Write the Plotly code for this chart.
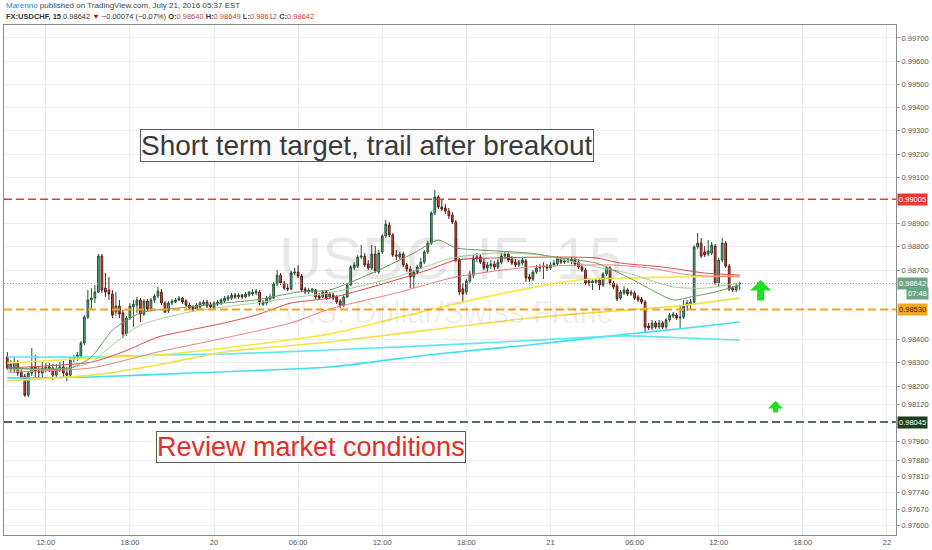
import pandas as pd
import plotly.graph_objects as go

# 15 minute USDCHF bars, first bar 2016-07-19 09:15
bar_start = '2016-07-19 09:15'

open_prices = [
    0.98325, 0.98273, 0.98269, 0.98303, 0.98260, 0.98243, 0.98161, 0.98256, 0.98282, 0.98265,
    0.98256, 0.98273, 0.98282, 0.98278, 0.98247, 0.98269, 0.98282, 0.98256, 0.98247, 0.98316,
    0.98321, 0.98329, 0.98385, 0.98497, 0.98571, 0.98579, 0.98605, 0.98760, 0.98622, 0.98614,
    0.98597, 0.98519, 0.98545, 0.98515, 0.98424, 0.98493, 0.98541, 0.98549, 0.98571, 0.98510,
    0.98566, 0.98532, 0.98571, 0.98588, 0.98605, 0.98558, 0.98523, 0.98558, 0.98562, 0.98571,
    0.98579, 0.98566, 0.98549, 0.98541, 0.98532, 0.98541, 0.98553, 0.98562, 0.98549, 0.98536,
    0.98553, 0.98558, 0.98566, 0.98575, 0.98579, 0.98592, 0.98584, 0.98592, 0.98584, 0.98592,
    0.98597, 0.98601, 0.98605, 0.98553, 0.98558, 0.98575, 0.98579, 0.98640, 0.98678, 0.98644,
    0.98622, 0.98618, 0.98687, 0.98691, 0.98674, 0.98618, 0.98605, 0.98609, 0.98614, 0.98588,
    0.98584, 0.98605, 0.98584, 0.98592, 0.98584, 0.98566, 0.98549, 0.98584, 0.98635, 0.98709,
    0.98717, 0.98756, 0.98760, 0.98726, 0.98709, 0.98769, 0.98691, 0.98778, 0.98847, 0.98894,
    0.98851, 0.98765, 0.98756, 0.98769, 0.98722, 0.98704, 0.98670, 0.98691, 0.98713, 0.98734,
    0.98778, 0.98816, 0.98946, 0.99015, 0.98972, 0.98967, 0.98954, 0.98937, 0.98907, 0.98743,
    0.98618, 0.98605, 0.98653, 0.98678, 0.98752, 0.98756, 0.98734, 0.98709, 0.98717, 0.98726,
    0.98713, 0.98734, 0.98760, 0.98769, 0.98747, 0.98734, 0.98722, 0.98730, 0.98739, 0.98670,
    0.98661, 0.98691, 0.98709, 0.98713, 0.98717, 0.98709, 0.98722, 0.98726, 0.98747, 0.98734,
    0.98739, 0.98739, 0.98743, 0.98734, 0.98713, 0.98700, 0.98653, 0.98644, 0.98648, 0.98657,
    0.98635, 0.98683, 0.98709, 0.98644, 0.98631, 0.98579, 0.98601, 0.98614, 0.98597, 0.98601,
    0.98584, 0.98575, 0.98562, 0.98459, 0.98450, 0.98472, 0.98454, 0.98472, 0.98454, 0.98485,
    0.98502, 0.98506, 0.98493, 0.98497, 0.98545, 0.98553, 0.98562, 0.98799, 0.98816, 0.98778,
    0.98769, 0.98773, 0.98803, 0.98644, 0.98743, 0.98816, 0.98717, 0.98622, 0.98614, 0.98640,
]
high_prices = [
    0.98347, 0.98312, 0.98321, 0.98312, 0.98273, 0.98252, 0.98260, 0.98364, 0.98334, 0.98286,
    0.98303, 0.98299, 0.98299, 0.98295, 0.98295, 0.98303, 0.98308, 0.98282, 0.98325, 0.98334,
    0.98347, 0.98394, 0.98506, 0.98614, 0.98622, 0.98635, 0.98769, 0.98769, 0.98687, 0.98670,
    0.98614, 0.98605, 0.98571, 0.98528, 0.98502, 0.98558, 0.98571, 0.98584, 0.98579, 0.98575,
    0.98575, 0.98579, 0.98597, 0.98627, 0.98618, 0.98566, 0.98566, 0.98575, 0.98579, 0.98588,
    0.98584, 0.98575, 0.98558, 0.98549, 0.98558, 0.98566, 0.98571, 0.98571, 0.98562, 0.98566,
    0.98571, 0.98579, 0.98588, 0.98592, 0.98601, 0.98601, 0.98601, 0.98597, 0.98605, 0.98609,
    0.98618, 0.98618, 0.98614, 0.98571, 0.98588, 0.98597, 0.98648, 0.98700, 0.98687, 0.98653,
    0.98640, 0.98696, 0.98709, 0.98722, 0.98683, 0.98627, 0.98622, 0.98622, 0.98618, 0.98601,
    0.98614, 0.98614, 0.98605, 0.98601, 0.98592, 0.98575, 0.98592, 0.98644, 0.98722, 0.98734,
    0.98765, 0.98808, 0.98773, 0.98743, 0.98808, 0.98803, 0.98786, 0.98855, 0.98916, 0.98907,
    0.98860, 0.98786, 0.98778, 0.98778, 0.98730, 0.98717, 0.98700, 0.98722, 0.98752, 0.98786,
    0.98825, 0.98954, 0.99045, 0.99023, 0.99002, 0.98984, 0.98967, 0.98950, 0.98916, 0.98752,
    0.98644, 0.98661, 0.98696, 0.98765, 0.98773, 0.98769, 0.98747, 0.98734, 0.98743, 0.98739,
    0.98747, 0.98773, 0.98782, 0.98778, 0.98760, 0.98747, 0.98743, 0.98752, 0.98747, 0.98683,
    0.98700, 0.98722, 0.98726, 0.98734, 0.98726, 0.98734, 0.98743, 0.98760, 0.98756, 0.98752,
    0.98752, 0.98756, 0.98752, 0.98747, 0.98726, 0.98709, 0.98666, 0.98661, 0.98666, 0.98666,
    0.98691, 0.98717, 0.98717, 0.98653, 0.98640, 0.98614, 0.98631, 0.98622, 0.98614, 0.98609,
    0.98592, 0.98584, 0.98571, 0.98472, 0.98485, 0.98480, 0.98485, 0.98480, 0.98493, 0.98515,
    0.98519, 0.98515, 0.98549, 0.98571, 0.98571, 0.98575, 0.98808, 0.98860, 0.98838, 0.98803,
    0.98829, 0.98821, 0.98812, 0.98752, 0.98838, 0.98825, 0.98726, 0.98631, 0.98640, 0.98649,
]
low_prices = [
    0.98269, 0.98260, 0.98256, 0.98243, 0.98230, 0.98153, 0.98153, 0.98243, 0.98235, 0.98226,
    0.98235, 0.98260, 0.98260, 0.98226, 0.98235, 0.98260, 0.98235, 0.98222, 0.98239, 0.98303,
    0.98308, 0.98321, 0.98377, 0.98489, 0.98532, 0.98558, 0.98601, 0.98601, 0.98584, 0.98571,
    0.98493, 0.98502, 0.98493, 0.98407, 0.98416, 0.98485, 0.98454, 0.98515, 0.98476, 0.98502,
    0.98523, 0.98523, 0.98558, 0.98579, 0.98549, 0.98515, 0.98515, 0.98549, 0.98558, 0.98566,
    0.98553, 0.98541, 0.98528, 0.98519, 0.98528, 0.98532, 0.98545, 0.98536, 0.98528, 0.98532,
    0.98545, 0.98549, 0.98558, 0.98566, 0.98571, 0.98575, 0.98575, 0.98575, 0.98579, 0.98584,
    0.98588, 0.98592, 0.98549, 0.98545, 0.98549, 0.98562, 0.98575, 0.98631, 0.98635, 0.98614,
    0.98609, 0.98614, 0.98678, 0.98666, 0.98605, 0.98597, 0.98597, 0.98601, 0.98575, 0.98575,
    0.98579, 0.98571, 0.98575, 0.98571, 0.98553, 0.98536, 0.98541, 0.98579, 0.98631, 0.98700,
    0.98709, 0.98747, 0.98713, 0.98700, 0.98700, 0.98687, 0.98683, 0.98769, 0.98838, 0.98842,
    0.98756, 0.98743, 0.98747, 0.98713, 0.98691, 0.98622, 0.98622, 0.98683, 0.98704, 0.98726,
    0.98769, 0.98808, 0.98937, 0.98963, 0.98954, 0.98941, 0.98920, 0.98898, 0.98734, 0.98592,
    0.98558, 0.98592, 0.98644, 0.98666, 0.98734, 0.98726, 0.98700, 0.98691, 0.98704, 0.98700,
    0.98704, 0.98726, 0.98747, 0.98734, 0.98722, 0.98713, 0.98713, 0.98722, 0.98648, 0.98648,
    0.98653, 0.98683, 0.98691, 0.98661, 0.98696, 0.98700, 0.98713, 0.98717, 0.98726, 0.98726,
    0.98730, 0.98726, 0.98717, 0.98704, 0.98691, 0.98635, 0.98631, 0.98614, 0.98640, 0.98614,
    0.98627, 0.98674, 0.98635, 0.98618, 0.98566, 0.98571, 0.98592, 0.98588, 0.98588, 0.98571,
    0.98562, 0.98553, 0.98428, 0.98441, 0.98441, 0.98446, 0.98446, 0.98446, 0.98446, 0.98476,
    0.98493, 0.98485, 0.98450, 0.98489, 0.98523, 0.98528, 0.98553, 0.98791, 0.98752, 0.98756,
    0.98760, 0.98765, 0.98635, 0.98631, 0.98734, 0.98709, 0.98609, 0.98605, 0.98605, 0.98612,
]
close_prices = [
    0.98278, 0.98295, 0.98303, 0.98256, 0.98239, 0.98161, 0.98256, 0.98282, 0.98265, 0.98260,
    0.98278, 0.98282, 0.98273, 0.98247, 0.98273, 0.98282, 0.98256, 0.98247, 0.98316, 0.98321,
    0.98334, 0.98385, 0.98497, 0.98571, 0.98579, 0.98605, 0.98760, 0.98614, 0.98605, 0.98597,
    0.98506, 0.98545, 0.98510, 0.98424, 0.98493, 0.98545, 0.98553, 0.98571, 0.98510, 0.98566,
    0.98532, 0.98571, 0.98588, 0.98609, 0.98558, 0.98519, 0.98558, 0.98566, 0.98571, 0.98579,
    0.98562, 0.98549, 0.98536, 0.98532, 0.98549, 0.98558, 0.98562, 0.98545, 0.98541, 0.98558,
    0.98562, 0.98571, 0.98579, 0.98584, 0.98592, 0.98584, 0.98592, 0.98584, 0.98597, 0.98605,
    0.98605, 0.98609, 0.98558, 0.98562, 0.98579, 0.98584, 0.98640, 0.98678, 0.98644, 0.98622,
    0.98618, 0.98687, 0.98691, 0.98674, 0.98614, 0.98605, 0.98614, 0.98618, 0.98584, 0.98579,
    0.98605, 0.98579, 0.98597, 0.98579, 0.98562, 0.98549, 0.98584, 0.98635, 0.98713, 0.98722,
    0.98756, 0.98760, 0.98722, 0.98709, 0.98769, 0.98696, 0.98773, 0.98847, 0.98898, 0.98851,
    0.98765, 0.98760, 0.98769, 0.98722, 0.98704, 0.98670, 0.98691, 0.98713, 0.98734, 0.98778,
    0.98816, 0.98946, 0.99015, 0.98972, 0.98963, 0.98954, 0.98933, 0.98907, 0.98743, 0.98605,
    0.98597, 0.98653, 0.98683, 0.98752, 0.98756, 0.98734, 0.98709, 0.98722, 0.98726, 0.98713,
    0.98734, 0.98760, 0.98769, 0.98743, 0.98730, 0.98722, 0.98734, 0.98743, 0.98666, 0.98661,
    0.98691, 0.98709, 0.98713, 0.98717, 0.98709, 0.98722, 0.98730, 0.98752, 0.98734, 0.98739,
    0.98743, 0.98747, 0.98726, 0.98713, 0.98700, 0.98644, 0.98644, 0.98653, 0.98657, 0.98635,
    0.98683, 0.98709, 0.98644, 0.98627, 0.98575, 0.98605, 0.98614, 0.98597, 0.98605, 0.98579,
    0.98571, 0.98562, 0.98454, 0.98450, 0.98472, 0.98454, 0.98472, 0.98454, 0.98485, 0.98506,
    0.98510, 0.98493, 0.98497, 0.98549, 0.98558, 0.98562, 0.98799, 0.98816, 0.98760, 0.98765,
    0.98782, 0.98808, 0.98644, 0.98743, 0.98816, 0.98717, 0.98618, 0.98614, 0.98631, 0.98642,
]

# moving averages at some bar numbers
ma_green_idx = [0, 18, 24, 30, 38, 52, 62, 71, 83, 92, 106, 116, 123, 128, 135, 149, 158, 168, 177, 190, 195, 202, 209]
ma_green_val = [0.98278, 0.98278, 0.98325, 0.98441, 0.98515, 0.98541, 0.98558, 0.98571, 0.98605, 0.98614,
                0.98700, 0.98773, 0.98829, 0.98795, 0.98786, 0.98773, 0.98752, 0.98730, 0.98670, 0.98571,
                0.98584, 0.98605, 0.98635]
ma_lgreen_idx = [0, 18, 24, 30, 38, 52, 62, 71, 83, 92, 111, 127, 139, 152, 168, 177, 190, 199, 209]
ma_lgreen_val = [0.98269, 0.98278, 0.98303, 0.98377, 0.98463, 0.98519, 0.98541, 0.98558, 0.98584, 0.98601,
                 0.98670, 0.98752, 0.98773, 0.98765, 0.98713, 0.98687, 0.98627, 0.98622, 0.98644]
ma_red_idx = [0, 24, 33, 43, 52, 62, 71, 81, 92, 106, 120, 128, 139, 158, 168, 175, 187, 199, 209]
ma_red_val = [0.98278, 0.98303, 0.98347, 0.98411, 0.98441, 0.98472, 0.98506, 0.98558, 0.98579, 0.98635,
              0.98700, 0.98743, 0.98752, 0.98756, 0.98752, 0.98730, 0.98713, 0.98687, 0.98678]
ma_pink_idx = [0, 24, 43, 62, 81, 92, 111, 128, 149, 172, 183, 195, 209]
ma_pink_val = [0.98260, 0.98278, 0.98347, 0.98407, 0.98472, 0.98532, 0.98601, 0.98670, 0.98713, 0.98722,
               0.98709, 0.98678, 0.98670]
ma_yellow_idx = [0, 24, 43, 62, 92, 111, 130, 149, 163, 177, 194, 209]
ma_yellow_val = [0.98299, 0.98321, 0.98334, 0.98364, 0.98424, 0.98493, 0.98562, 0.98622, 0.98657, 0.98666,
                 0.98670, 0.98674]
ma_gold_idx = [0, 24, 43, 62, 92, 120, 149, 177, 191, 209]
ma_gold_val = [0.98222, 0.98247, 0.98291, 0.98347, 0.98390, 0.98441, 0.98493, 0.98528, 0.98545, 0.98579]
ma_cyan_idx = [0, 24, 43, 62, 92, 135, 177, 194, 209]
ma_cyan_val = [0.98325, 0.98325, 0.98334, 0.98338, 0.98355, 0.98385, 0.98416, 0.98407, 0.98398]
ma_aqua_idx = [0, 24, 52, 92, 120, 149, 177, 194, 209]
ma_aqua_val = [0.98235, 0.98239, 0.98256, 0.98282, 0.98334, 0.98377, 0.98424, 0.98450, 0.98476]

# drawn levels
level_target = 0.99005
level_support = 0.98530
level_review = 0.98045
last_price = 0.98642

tick_times = ['2016-07-19 12:00', '2016-07-19 18:00', '2016-07-20 00:00', '2016-07-20 06:00',
              '2016-07-20 12:00', '2016-07-20 18:00', '2016-07-21 00:00', '2016-07-21 06:00',
              '2016-07-21 12:00', '2016-07-21 18:00', '2016-07-22 00:00']
tick_text = ['12:00', '18:00', '20', '06:00', '12:00', '18:00', '21', '06:00', '12:00', '18:00', '22']
price_ticks = [0.997, 0.996, 0.995, 0.994, 0.993, 0.992, 0.991, 0.989, 0.988, 0.987,
               0.984, 0.983, 0.982, 0.9812, 0.9796, 0.9788, 0.9781, 0.9774, 0.9767, 0.976]

times = pd.date_range(bar_start, periods=len(close_prices), freq='15min')

fig = go.Figure()

ma_lines = [
    (ma_aqua_idx, ma_aqua_val, '#3fdff0', 1.6),
    (ma_cyan_idx, ma_cyan_val, '#5fe6f2', 1.6),
    (ma_gold_idx, ma_gold_val, '#f2e04a', 1.6),
    (ma_yellow_idx, ma_yellow_val, '#f7e83c', 1.6),
    (ma_pink_idx, ma_pink_val, '#ee7f7f', 1),
    (ma_red_idx, ma_red_val, '#e34a4a', 1),
    (ma_lgreen_idx, ma_lgreen_val, '#a3cf98', 1),
    (ma_green_idx, ma_green_val, '#6b9a62', 1),
]
for idx, vals, col, w in ma_lines:
    fig.add_trace(go.Scatter(x=times[idx], y=vals, mode='lines',
                             line=dict(color=col, width=w, shape='spline', smoothing=0.6),
                             hoverinfo='skip'))

fig.add_trace(go.Candlestick(x=times, open=open_prices, high=high_prices,
                             low=low_prices, close=close_prices,
                             increasing=dict(fillcolor='#6ba583', line=dict(color='#225437', width=1)),
                             decreasing=dict(fillcolor='#d75442', line=dict(color='#5b1a13', width=1))))

# horizontal levels
fig.add_hline(y=level_target, line=dict(color='#e53935', width=1.5, dash='8px,4px'))
fig.add_hline(y=level_support, line=dict(color='#f5a11d', width=2, dash='8px,4px'))
fig.add_hline(y=level_review, line=dict(color='#1e3f1e', width=1.5, dash='8px,4px'))
fig.add_hline(y=last_price, line=dict(color='#a0a0a0', width=1, dash='1px,2px'))

wm = 'rgba(0,0,0,0.085)'
fig.add_annotation(x=0.5, y=0.543, xref='paper', yref='paper', xanchor='center', yanchor='middle',
                   text='USDCHF, 15', showarrow=False,
                   font=dict(family='Liberation Sans', size=60, color=wm))
fig.add_annotation(x=0.498, y=0.437, xref='paper', yref='paper', xanchor='center', yanchor='middle',
                   text='U.S. Dollar/Swiss Franc', showarrow=False,
                   font=dict(family='Liberation Sans', size=31, color=wm))

# notes on the chart
fig.add_annotation(x=0.4068, y=0.7647, xref='paper', yref='paper', xanchor='center', yanchor='middle',
                   text='Short term target, trail after breakout', showarrow=False,
                   font=dict(family='Liberation Sans', size=28, color='#3a3a3a'),
                   bgcolor='rgba(250,250,250,0.9)', bordercolor='#5a5a5a', borderwidth=1, borderpad=0)
fig.add_annotation(x=0.3443, y=0.1716, xref='paper', yref='paper', xanchor='center', yanchor='middle',
                   text='Review market conditions', showarrow=False,
                   font=dict(family='Liberation Sans', size=27, color='#e0302a'),
                   bgcolor='rgba(250,250,250,0.9)', bordercolor='#5a5a5a', borderwidth=1, borderpad=0)

# green arrows
fig.add_annotation(x=0.8482, y=0.98657, xref='paper', yref='y', text='', showarrow=True,
                   ax=0, ay=22, arrowhead=1, arrowsize=0.5, arrowwidth=7, arrowcolor='#22dd22')
fig.add_annotation(x=0.865, y=0.98135, xref='paper', yref='y', text='', showarrow=True,
                   ax=0, ay=13, arrowhead=1, arrowsize=0.5, arrowwidth=5, arrowcolor='#22dd22')

# price tags on the right scale
tags = [
    (level_target, '0.99005', '#e53935', 'white', 0),
    (last_price, '0.98642', '#6aa583', 'white', 0),
    (0.98600, '07:48', '#6aa583', 'white', 9),
    (level_support, '0.98530', '#f5a623', '#3a2a00', 0),
    (level_review, '0.98045', '#1e3f1e', 'white', 0),
]
for yv, txt, bg, fc, xs in tags:
    fig.add_annotation(x=1, y=yv, xref='paper', yref='y', xanchor='left', yanchor='middle', xshift=1 + xs,
                       text=txt, showarrow=False, bgcolor=bg, borderpad=1,
                       font=dict(family='Liberation Sans', size=7.5, color=fc))

# header
fig.add_annotation(x=0, y=1, xref='paper', yref='paper', xanchor='left', yanchor='bottom', yshift=13,
                   showarrow=False, align='left',
                   text="<span style='color:#2a7fd4'>Marenno</span> published on TradingView.com, July 21, 2016 05:37 EST",
                   font=dict(family='Liberation Sans', size=8, color='#444'))
hdr = ("<b>FX:USDCHF, 15</b> 0.98642 <span style='color:#d0021b'>▼</span> −0.00074 (−0.07%) "
       "<b>O:</b><span style='color:#c83c32'>0.98640</span> <b>H:</b><span style='color:#c83c32'>0.98649</span> "
       "<b>L:</b><span style='color:#c83c32'>0.98612</span> <b>C:</b><span style='color:#c83c32'>0.98642</span>")
fig.add_annotation(x=0, y=1, xref='paper', yref='paper', xanchor='left', yanchor='bottom', yshift=2,
                   showarrow=False, align='left', text=hdr,
                   font=dict(family='Liberation Sans', size=7.5, color='#333'))

fig.update_layout(width=932, height=550, margin=dict(l=3, r=33, t=25, b=15),
                  paper_bgcolor='white', plot_bgcolor='white', showlegend=False,
                  font=dict(family='Liberation Sans', size=8, color='#555'))
fig.update_xaxes(type='date', range=['2016-07-19 09:01', '2016-07-22 00:39'],
                 tickvals=tick_times, ticktext=tick_text, showgrid=True, gridcolor='#ececec',
                 showline=True, linecolor='#8a8a8a', mirror=True, ticks='',
                 rangeslider=dict(visible=False), tickfont=dict(size=7.5, color='#555'))
fig.update_yaxes(side='right', range=[0.97558, 0.99756], tickvals=price_ticks, tickformat='.5f',
                 showgrid=True, gridcolor='#ececec', zeroline=False,
                 showline=True, linecolor='#8a8a8a', mirror=True,
                 ticks='outside', ticklen=3, tickcolor='#9a9a9a', tickfont=dict(size=7.5, color='#555'))

# page has a default body margin; drop it so the figure sits at the window corner
fig.write_html("out.html", config={'displayModeBar': False},
               post_script="document.body.style.margin='0px';")
